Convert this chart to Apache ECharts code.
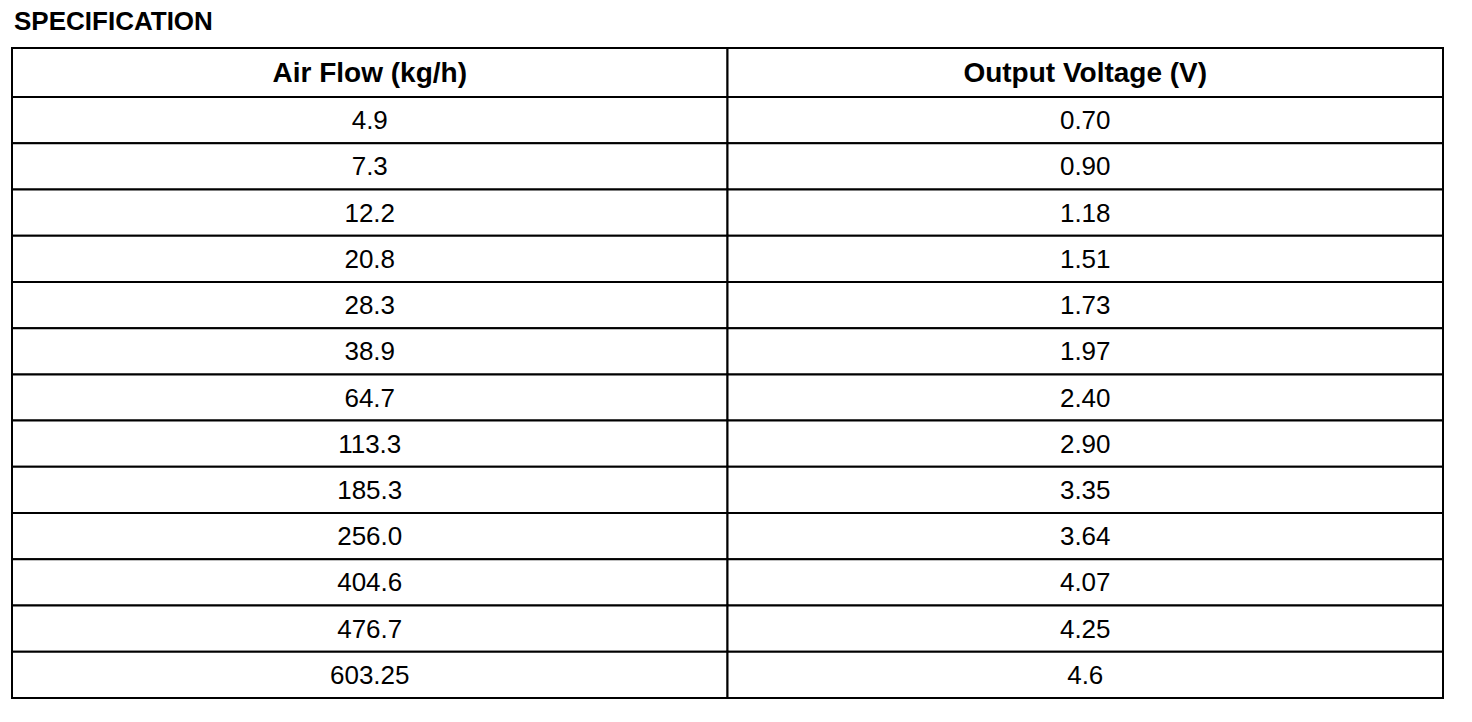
<!DOCTYPE html>
<html>
<head>
<meta charset="utf-8">
<title>Specification</title>
<script src="https://cdn.jsdelivr.net/npm/echarts@6/dist/echarts.min.js"></script>
<style>
  html, body { margin: 0; padding: 0; background: #fff; }
  #chart { width: 1472px; height: 722px; }
</style>
</head>
<body>
<div id="chart"></div>
<script>
var headers = ['Air Flow (kg/h)', 'Output Voltage (V)'];
var airFlow = ['4.9', '7.3', '12.2', '20.8', '28.3', '38.9', '64.7', '113.3', '185.3', '256.0', '404.6', '476.7', '603.25'];
var outputVoltage = ['0.70', '0.90', '1.18', '1.51', '1.73', '1.97', '2.40', '2.90', '3.35', '3.64', '4.07', '4.25', '4.6'];

(function() {
  var font = '"Liberation Sans", Arial, Helvetica, sans-serif';
  var rows = airFlow.map(function(v, i) { return String(i); });

  // header cells and body cells, [col, row] plus text kept aside
  var headData = headers.map(function(h, i) { return [i, 0]; });
  var headText = headers.slice();
  var bodyData = [];
  var bodyText = [];
  airFlow.forEach(function(v, i) {
    bodyData.push([0, i]); bodyText.push(v);
    bodyData.push([1, i]); bodyText.push(outputVoltage[i]);
  });

  function cellRenderer(texts, size, weight) {
    return function(params, api) {
      var c = api.coord([api.value(0), api.value(1)]);
      var s = api.size([1, 1]);
      return {
        type: 'group',
        children: [
          {
            type: 'rect',
            shape: { x: c[0] - s[0] / 2, y: c[1] - s[1] / 2, width: s[0], height: s[1] },
            style: { fill: '#fff', stroke: '#000', lineWidth: 2 }
          },
          {
            type: 'text',
            style: {
              text: texts[params.dataIndex],
              x: c[0], y: c[1],
              align: 'center', verticalAlign: 'middle',
              fill: '#000',
              font: weight + ' ' + size + 'px ' + font
            }
          }
        ]
      };
    };
  }

  var hiddenAxis = { show: false };

  var chart = echarts.init(document.getElementById('chart'), null, { renderer: 'svg' });
  chart.setOption({
    animation: false,
    title: {
      text: 'SPECIFICATION',
      left: 9,
      top: 3,
      textStyle: { fontFamily: font, fontSize: 26, fontWeight: 'bold', color: '#000' }
    },
    grid: [
      { left: 12, top: 48, width: 1431, height: 49 },
      { left: 12, top: 97, width: 1431, height: 601 }
    ],
    xAxis: [
      Object.assign({ type: 'category', gridIndex: 0, data: headers }, hiddenAxis),
      Object.assign({ type: 'category', gridIndex: 1, data: headers }, hiddenAxis)
    ],
    yAxis: [
      Object.assign({ type: 'category', gridIndex: 0, data: ['head'], inverse: true }, hiddenAxis),
      Object.assign({ type: 'category', gridIndex: 1, data: rows, inverse: true }, hiddenAxis)
    ],
    series: [
      {
        type: 'custom',
        xAxisIndex: 0, yAxisIndex: 0,
        renderItem: cellRenderer(headText, 28, 'bold'),
        data: headData
      },
      {
        type: 'custom',
        xAxisIndex: 1, yAxisIndex: 1,
        renderItem: cellRenderer(bodyText, 26, 'normal'),
        data: bodyData
      }
    ]
  });
  window.addEventListener('resize', function() { chart.resize(); });
})();
</script>
</body>
</html>
